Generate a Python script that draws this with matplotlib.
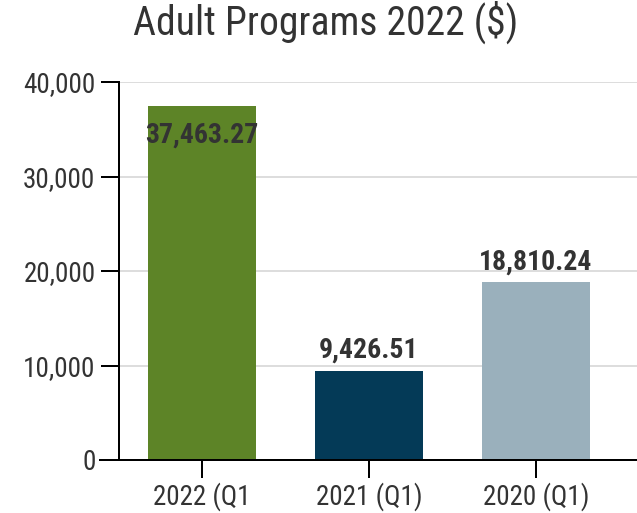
import matplotlib
matplotlib.use("Agg")
import matplotlib.pyplot as plt
from matplotlib import font_manager
from matplotlib.lines import Line2D

names = {f.name for f in font_manager.fontManager.ttflist}
fam = 'Roboto Condensed' if 'Roboto Condensed' in names else 'Roboto'
plt.rcParams['font.family'] = [fam, 'DejaVu Sans']

categories = ["2022 (Q1", "2021 (Q1)", "2020 (Q1)"]
values = [37463.27, 9426.51, 18810.24]
colors = ["#5d8427", "#043a57", "#9ab0bc"]
yticks = [0, 10000, 20000, 30000, 40000]
title = "Adult Programs 2022 ($)"

px = 72 / 100  # points per pixel

fig = plt.figure(figsize=(6.37, 5.13), dpi=100)
ax = fig.add_axes([119/637, 53/513, 518/637, 378/513])
x = list(range(len(categories)))
ax.bar(x, values, width=0.65, color=colors, zorder=3)
ax.set_xlim(-0.497, 2.605)
ax.set_ylim(0, 40000)
ax.set_yticks(yticks)
ax.set_yticklabels([f"{v:,}" for v in yticks])
ax.set_xticks(x)
ax.set_xticklabels(categories)
ax.grid(axis='y', color='#dddddd', linewidth=2 * px, zorder=0)
for s in ['top', 'right', 'bottom']:
    ax.spines[s].set_visible(False)
ax.spines['left'].set_linewidth(2 * px)
ax.tick_params(axis='both', length=18 * px, width=2 * px, color='black', labelsize=19.5, labelcolor='#333333')
ax.tick_params(axis='y', pad=4)
ax.tick_params(axis='x', pad=3)
ax.add_line(Line2D([-19/518, 1], [0, 0], transform=ax.transAxes, color='black', lw=2 * px, clip_on=False, zorder=5))

for i, v in enumerate(values):
    lab = f"{v:,.2f}"
    if v > 30000:
        ax.annotate(lab, (i, v), xytext=(0, -11), textcoords='offset points', ha='center', va='top',
                    fontsize=20, fontweight='bold', color='#333333', zorder=4)
    else:
        ax.annotate(lab, (i, v), xytext=(0, 5), textcoords='offset points', ha='center', va='bottom',
                    fontsize=20, fontweight='bold', color='#333333', zorder=4)

fig.text(326/637, 1 - 22/513, title, ha='center', va='center', fontsize=28.5, color='#333333')
fig.savefig("out.png", dpi=100)
